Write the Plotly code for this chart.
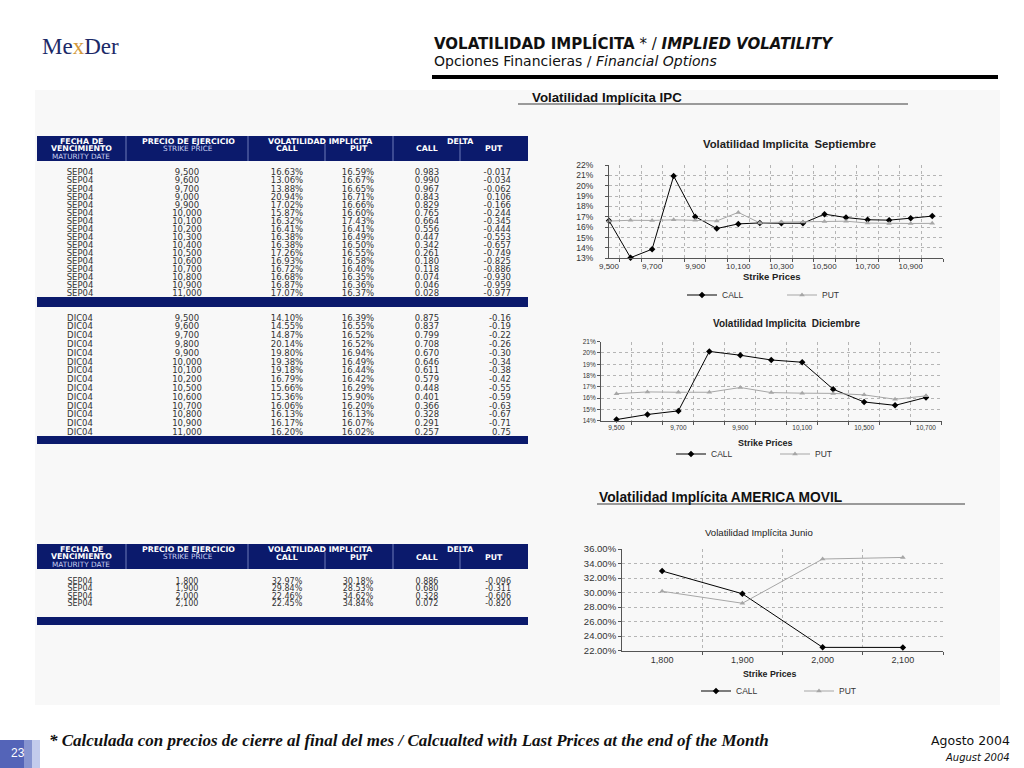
import plotly.graph_objects as go

W, H = 1024, 768

# ---------------- data ----------------
sep_dates = ["SEP04"] * 16
sep_strikes = [9500, 9600, 9700, 9800, 9900, 10000, 10100, 10200,
               10300, 10400, 10500, 10600, 10700, 10800, 10900, 11000]
sep_strike_labels = ["9,500", "9,600", "9,700", "9,000", "9,900", "10,000", "10,100", "10,200",
                     "10,300", "10,400", "10,500", "10,600", "10,700", "10,800", "10,900", "11,000"]
sep_call_vol = [16.63, 13.06, 13.88, 20.94, 17.02, 15.87, 16.32, 16.41,
                16.38, 16.38, 17.26, 16.93, 16.72, 16.68, 16.87, 17.07]
sep_put_vol = [16.59, 16.67, 16.65, 16.71, 16.66, 16.60, 17.43, 16.41,
               16.49, 16.50, 16.55, 16.58, 16.40, 16.35, 16.36, 16.37]
sep_call_delta = [0.983, 0.990, 0.967, 0.843, 0.829, 0.765, 0.664, 0.556,
                  0.447, 0.342, 0.261, 0.180, 0.118, 0.074, 0.046, 0.028]
sep_put_delta = [-0.017, -0.034, -0.062, 0.106, -0.166, -0.244, -0.345, -0.444,
                 -0.553, -0.657, -0.749, -0.825, -0.886, -0.930, -0.959, -0.977]

dic_dates = ["DIC04"] * 14
dic_strike_labels = ["9,500", "9,600", "9,700", "9,800", "9,900", "10,000", "10,100",
                     "10,200", "10,500", "10,600", "10,700", "10,800", "10,900", "11,000"]
dic_call_vol = [14.10, 14.55, 14.87, 20.14, 19.80, 19.38, 19.18,
                16.79, 15.66, 15.36, 16.06, 16.13, 16.17, 16.20]
dic_put_vol = [16.39, 16.55, 16.52, 16.52, 16.94, 16.49, 16.44,
               16.42, 16.29, 15.90, 16.20, 16.13, 16.07, 16.02]
dic_call_delta = [0.875, 0.837, 0.799, 0.708, 0.670, 0.646, 0.611,
                  0.579, 0.448, 0.401, 0.366, 0.328, 0.291, 0.257]
dic_put_delta = [-0.16, -0.19, -0.22, -0.26, -0.30, -0.34, -0.38,
                 -0.42, -0.55, -0.59, -0.63, -0.67, -0.71, 0.75]
dic_chart_n = 11  # the chart shows strikes 9,500 .. 10,700

amx_dates = ["SEP04"] * 4
amx_strike_labels = ["1,800", "1,900", "2,000", "2,100"]
amx_call_vol = [32.97, 29.84, 22.46, 22.45]
amx_put_vol = [30.18, 28.53, 34.62, 34.84]
amx_call_delta = [0.886, 0.680, 0.328, 0.072]
amx_put_delta = [-0.096, -0.311, -0.606, -0.820]

# ---------------- styles ----------------
NAVY = "#0b1a6c"
TXT = "#333333"
CALL_C = "#000000"
PUT_C = "#a6a6a6"
GRID = "#b5b5b5"
AX = "#555555"
SANS = "Arial, Liberation Sans"
WIDE = "DejaVu Sans"


def px(x):
    return x / W


def py(y):
    return 1 - y / H


fig = go.Figure()

# ---------------- tables (text traces on a full-page pixel axis) ----------------
COLS = dict(date=80, strike=187, cv=287, pv=358, cd=427, pd=511)


def add_col(x, ys, texts, size, pos="middle center"):
    fig.add_trace(go.Scatter(
        x=[x] * len(ys), y=ys, text=texts, mode="text", textposition=pos,
        textfont=dict(family=WIDE, size=size, color=TXT),
        xaxis="x4", yaxis="y4", showlegend=False, hoverinfo="skip", cliponaxis=False))


def add_table(y0, step, size, dates, strikes, cv, pv, cd, pdl, cdfmt, pdfmt):
    ys = [y0 + i * step for i in range(len(dates))]
    add_col(COLS["date"], ys, dates, size)
    add_col(COLS["strike"], ys, strikes, size)
    add_col(COLS["cv"], ys, [f"{v:.2f}%" for v in cv], size)
    add_col(COLS["pv"], ys, [f"{v:.2f}%" for v in pv], size)
    add_col(COLS["cd"], ys, [format(v, cdfmt) for v in cd], size)
    add_col(COLS["pd"], ys, [format(v, pdfmt) for v in pdl], size, pos="middle left")


add_table(173.3, 8.05, 8.5, sep_dates, sep_strike_labels, sep_call_vol, sep_put_vol,
          sep_call_delta, sep_put_delta, ".3f", ".3f")
add_table(318.5, 8.8, 8.5, dic_dates, dic_strike_labels, dic_call_vol, dic_put_vol,
          dic_call_delta, dic_put_delta, ".3f", ".2f")
add_table(581.5, 7.6, 8.0, amx_dates, amx_strike_labels, amx_call_vol, amx_put_vol,
          amx_call_delta, amx_put_delta, ".3f", ".3f")

# ---------------- charts ----------------
mk_call = dict(symbol="diamond", size=5, color=CALL_C)
mk_put = dict(symbol="triangle-up", size=5, color=PUT_C)

# chart 1 - Septiembre
fig.add_trace(go.Scatter(x=sep_strikes, y=sep_call_vol, name="CALL", mode="lines+markers",
                         line=dict(color=CALL_C, width=1), marker=mk_call, xaxis="x", yaxis="y",
                         legend="legend", cliponaxis=False))
fig.add_trace(go.Scatter(x=sep_strikes, y=sep_put_vol, name="PUT", mode="lines+markers",
                         line=dict(color=PUT_C, width=1), marker=mk_put, xaxis="x", yaxis="y",
                         legend="legend", cliponaxis=False))

# chart 2 - Diciembre (category positions)
dic_idx = list(range(dic_chart_n))
fig.add_trace(go.Scatter(x=dic_idx, y=dic_call_vol[:dic_chart_n], name="CALL", mode="lines+markers",
                         line=dict(color=CALL_C, width=1), marker=mk_call, xaxis="x2", yaxis="y2",
                         legend="legend2", cliponaxis=False))
fig.add_trace(go.Scatter(x=dic_idx, y=dic_put_vol[:dic_chart_n], name="PUT", mode="lines+markers",
                         line=dict(color=PUT_C, width=1), marker=mk_put, xaxis="x2", yaxis="y2",
                         legend="legend2", cliponaxis=False))

# chart 3 - Junio (AMX)
amx_idx = list(range(len(amx_strike_labels)))
fig.add_trace(go.Scatter(x=amx_idx, y=amx_call_vol, name="CALL", mode="lines+markers",
                         line=dict(color=CALL_C, width=1), marker=mk_call, xaxis="x3", yaxis="y3",
                         legend="legend3", cliponaxis=False))
fig.add_trace(go.Scatter(x=amx_idx, y=amx_put_vol, name="PUT", mode="lines+markers",
                         line=dict(color=PUT_C, width=1), marker=mk_put, xaxis="x3", yaxis="y3",
                         legend="legend3", cliponaxis=False))

tickfont = dict(family=SANS, size=8.5, color=TXT)
common_y = dict(showline=True, linecolor=AX, linewidth=1, ticks="outside", ticklen=3, tickcolor=AX,
                showgrid=True, gridcolor=GRID, griddash="dot", gridwidth=1, zeroline=False,
                tickfont=tickfont, ticksuffix="%", automargin=False)
common_x = dict(showline=True, linecolor=AX, linewidth=1, ticks="", showgrid=False, zeroline=False,
                tickfont=tickfont, automargin=False)
minor_grid = dict(ticks="outside", ticklen=3, tickcolor=AX, showgrid=True, gridcolor=GRID, griddash="dot")

legend_common = dict(orientation="h", xanchor="left", yanchor="middle", entrywidthmode="pixels",
                     bgcolor="rgba(0,0,0,0)", font=dict(family=SANS, size=8.5, color=TXT))

fig.update_layout(
    width=W, height=H, margin=dict(l=0, r=0, t=0, b=0, pad=0, autoexpand=False),
    paper_bgcolor="white", plot_bgcolor="rgba(0,0,0,0)",
    xaxis=dict(common_x, domain=[px(609), px(943)], anchor="y", range=[9500, 11050],
               tickvals=sep_strikes[::2], tickformat=",d", tickfont=dict(tickfont, size=8),
               minor=dict(minor_grid, tickvals=[s + 50 for s in sep_strikes])),
    yaxis=dict(common_y, domain=[py(258.3), py(165)], anchor="x", range=[13, 22], dtick=1,
               ticklabelstandoff=10),
    xaxis2=dict(common_x, domain=[px(601), px(941.5)], anchor="y2", range=[-0.5, dic_chart_n - 0.5],
                tickvals=dic_idx[::2], ticktext=dic_strike_labels[:dic_chart_n:2],
                tickfont=dict(tickfont, size=6.5),
                minor=dict(minor_grid, tickvals=[i + 0.5 for i in dic_idx])),
    yaxis2=dict(common_y, domain=[py(420.7), py(341.7)], anchor="x2", range=[14, 21], dtick=1,
                tickfont=dict(tickfont, size=6.5)),
    xaxis3=dict(common_x, domain=[px(622), px(943)], anchor="y3", range=[-0.5, len(amx_idx) - 0.5],
                tickvals=amx_idx, ticktext=amx_strike_labels, tickfont=dict(tickfont, size=9),
                minor=dict(minor_grid, tickvals=[i + 0.5 for i in amx_idx])),
    yaxis3=dict(common_y, domain=[py(650.7), py(549)], anchor="x3", range=[22, 36], dtick=2,
                tickformat=".2f", tickfont=dict(tickfont, size=9.5)),
    xaxis4=dict(domain=[0, 1], range=[0, W], visible=False, anchor="y4", automargin=False),
    yaxis4=dict(domain=[0, 1], range=[H, 0], visible=False, anchor="x4", automargin=False),
    legend=dict(legend_common, x=px(682), y=py(295), entrywidth=55),
    legend2=dict(legend_common, x=px(671), y=py(454), entrywidth=59),
    legend3=dict(legend_common, x=px(696), y=py(691), entrywidth=58),
)

# ---------------- shapes ----------------
shapes = []


def rect(x0, y0, x1, y1, color, layer="below"):
    shapes.append(dict(type="rect", xref="paper", yref="paper", x0=px(x0), y0=py(y0), x1=px(x1),
                       y1=py(y1), fillcolor=color, line=dict(width=0), layer=layer))


def line(x0, y0, x1, y1, color, width):
    shapes.append(dict(type="line", xref="paper", yref="paper", x0=px(x0), y0=py(y0), x1=px(x1),
                       y1=py(y1), line=dict(color=color, width=width), layer="above"))


# light panel
rect(35, 90, 1000, 705, "#f8f8f8")
# title rule
line(432, 77, 998, 77, "#000000", 4)
line(518, 104, 908, 104, "#9a9a9a", 2)
line(597, 504, 965, 504, "#9a9a9a", 2)

# table headers and bands
for top in (136, 544):
    rect(37, top, 528, top + 25, NAVY)
    for xs in (126, 248, 393):
        line(xs, top, xs, top + 25, "#6f7bb8", 1)
    for xs in (325, 460):
        line(xs, top + 8, xs, top + 25, "#6f7bb8", 1)
rect(37, 297, 528, 307, NAVY)
rect(37, 436, 528, 444, NAVY)
rect(37, 617, 528, 625, NAVY)

# page badge
rect(0, 740, 24, 768, "#5464b8", layer="above")
rect(24, 740, 32, 768, "#8794d0", layer="above")
rect(32, 740, 40, 768, "#c3cbec", layer="above")

fig.update_layout(shapes=shapes)

# ---------------- annotations ----------------
ann = []


def text(x, y, s, size, color="#111", family=SANS, xanchor="left", yanchor="middle"):
    ann.append(dict(xref="paper", yref="paper", x=px(x), y=py(y), text=s, showarrow=False,
                    xanchor=xanchor, yanchor=yanchor, font=dict(family=family, size=size, color=color)))


# logo
text(80, 47, "Me<span style='color:#d39a3c'>x</span>Der", 23, color="#1c2a68",
     family="Liberation Serif", xanchor="center")
# header titles
text(432, 44, "<b>VOLATILIDAD IMPLÍCITA</b> * / <b><i>IMPLIED VOLATILITY</i></b>", 15, family=WIDE)
text(432, 61, "Opciones Financieras / <i>Financial Options</i>", 14, family=WIDE)
text(530, 98, "<b>Volatilidad Implícita IPC</b>", 13.3)
text(597, 497, "<b>Volatilidad Implícita AMERICA MOVIL</b>", 13.8)

# chart titles / axis titles
text(789, 144, "<b>Volatilidad Implicita  Septiembre</b>", 11.3, color="#222", xanchor="center")
text(787, 323, "<b>Volatilidad Implicita  Diciembre</b>", 10, color="#222", xanchor="center")
text(759, 532, "Volatilidad Implícita Junio", 9.6, color="#222", xanchor="center")
text(772, 277, "<b>Strike Prices</b>", 9.5, color="#222", xanchor="center")
text(765, 443, "<b>Strike Prices</b>", 9, color="#222", xanchor="center")
text(769, 674, "<b>Strike Prices</b>", 8.8, color="#222", xanchor="center")

# table headers
LIGHT = "#c9d0f2"
for top in (136, 544):
    text(81, top + 5, "<b>FECHA DE</b>", 7.8, color="white", family=WIDE, xanchor="center")
    text(81, top + 12.5, "<b>VENCIMIENTO</b>", 7.8, color="white", family=WIDE, xanchor="center")
    text(81, top + 20, "MATURITY DATE", 7.3, color=LIGHT, family=WIDE, xanchor="center")
    text(188, top + 5, "<b>PRECIO DE EJERCICIO</b>", 7.8, color="white", family=WIDE, xanchor="center")
    text(188, top + 12.5, "STRIKE PRICE", 7.3, color=LIGHT, family=WIDE, xanchor="center")
    text(320, top + 5, "<b>VOLATILIDAD IMPLICITA</b>", 7.8, color="white", family=WIDE, xanchor="center")
    text(287, top + 13, "<b>CALL</b>", 7.8, color="white", family=WIDE, xanchor="center")
    text(359, top + 13, "<b>PUT</b>", 7.8, color="white", family=WIDE, xanchor="center")
    text(460, top + 5, "<b>DELTA</b>", 7.8, color="white", family=WIDE, xanchor="center")
    text(427, top + 13, "<b>CALL</b>", 7.8, color="white", family=WIDE, xanchor="center")
    text(494, top + 13, "<b>PUT</b>", 7.8, color="white", family=WIDE, xanchor="center")

# footer
text(47, 740, "<b><i>* Calculada con precios de cierre al final del mes / Calcualted with Last Prices at the end of the Month</i></b>",
     17, color="#111", family="Liberation Serif")
text(1012, 740, "Agosto 2004", 12.5, color="#111", family=WIDE, xanchor="right")
text(1012, 757, "<i>August 2004</i>", 10, color="#111", family=WIDE, xanchor="right")
text(18, 753, "23", 12, color="white", xanchor="center")

fig.update_layout(annotations=ann)

fig.write_html("out.html",
               config={"displayModeBar": False},
               post_script="document.body.style.margin='0px';"
                           "document.documentElement.style.overflow='hidden';")
